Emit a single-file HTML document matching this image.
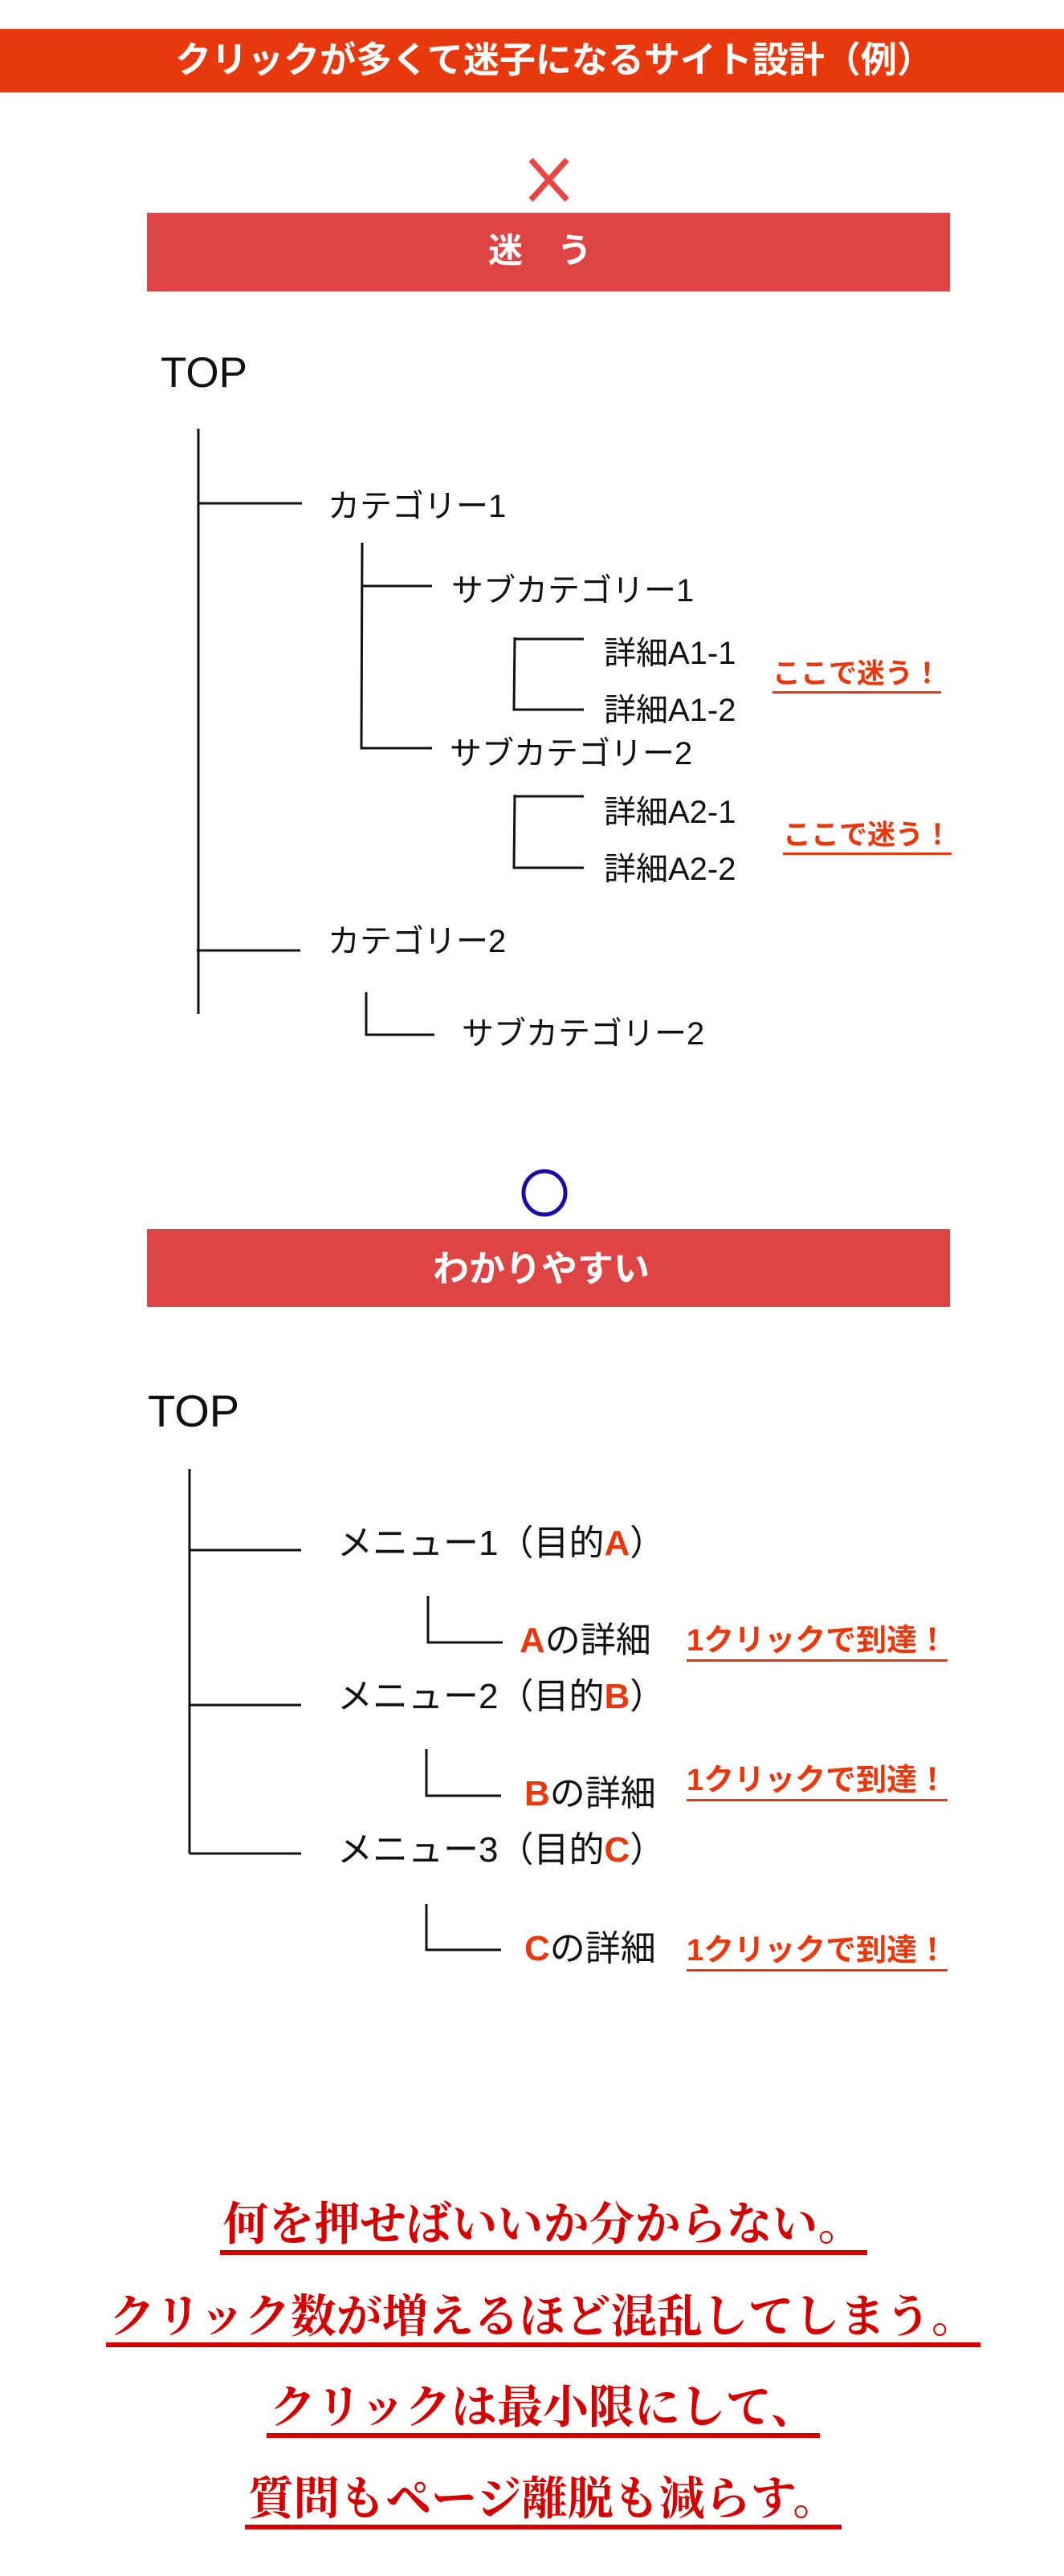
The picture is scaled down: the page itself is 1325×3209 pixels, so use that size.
<!DOCTYPE html>
<html><head><meta charset="utf-8">
<style>
html,body{margin:0;padding:0;background:#fff;}
body{width:1325px;height:3209px;position:relative;overflow:hidden;font-family:"Liberation Sans","Noto Sans CJK JP",sans-serif;color:#111;}
.t{position:absolute;white-space:nowrap;line-height:1;}
.r{color:#e8380d;font-weight:bold;}
.u{border-bottom:3px solid #e8380d;padding-bottom:2px;}
.s{position:absolute;white-space:nowrap;font-family:"Liberation Serif","Noto Serif CJK JP",serif;font-weight:bold;color:#d40000;font-size:57px;line-height:1;text-align:center;left:14px;width:1325px;}
.s span{border-bottom:6px solid #d40000;padding:0 4px 0 4px;}
</style></head><body>
<div style="position:absolute;left:0;top:36px;width:1325px;height:79px;background:#e8380d;"></div>
<div class="t" style="left:0;width:1380px;top:52px;text-align:center;color:#fff;font-weight:bold;font-size:45px;">クリックが多くて迷子になるサイト設計（例）</div>

<svg width="1325" height="3209" style="position:absolute;left:0;top:0" xmlns="http://www.w3.org/2000/svg">
<g stroke="#e84545" stroke-width="7" stroke-linecap="butt">
<line x1="661" y1="199" x2="706" y2="249"/><line x1="706" y1="199" x2="661" y2="249"/></g>
<rect x="183" y="265" width="1000" height="98" fill="#df4444"/>
<ellipse cx="678" cy="1486" rx="26" ry="27" fill="none" stroke="#1a0aa8" stroke-width="5"/>
<rect x="183" y="1531" width="1000" height="97" fill="#df4444"/>
<g stroke="#111" stroke-width="3" fill="none">
<line x1="247" y1="534" x2="247" y2="1263"/>
<line x1="247" y1="627" x2="376" y2="627"/>
<line x1="245" y1="1184" x2="374" y2="1184"/>
<polyline points="451,676 450,932 538,932"/>
<line x1="451" y1="730" x2="538" y2="730"/>
<polyline points="641,794 640,884 727,884"/>
<line x1="641" y1="796" x2="727" y2="796"/>
<polyline points="641,990 640,1081 727,1081"/>
<line x1="641" y1="992" x2="727" y2="992"/>
<polyline points="456,1236 456,1289 541,1289"/>
<line x1="236" y1="1830" x2="236" y2="2309"/>
<line x1="236" y1="1931" x2="375" y2="1931"/>
<line x1="236" y1="2124" x2="375" y2="2124"/>
<line x1="236" y1="2309" x2="375" y2="2309"/>
<polyline points="533,1988 533,2046 626,2046"/>
<polyline points="531,2179 531,2237 624,2237"/>
<polyline points="531,2372 531,2429 624,2429"/>
</g></svg>

<div class="t" style="left:0;width:1345px;top:292px;text-align:center;color:#fff;font-weight:bold;font-size:43px;">迷　う</div>
<div class="t" style="left:200px;top:438px;font-size:53px;">TOP</div>
<div class="t" style="left:408px;top:611px;font-size:40px;">カテゴリー1</div>
<div class="t" style="left:562px;top:716px;font-size:40px;">サブカテゴリー1</div>
<div class="t" style="left:752px;top:794px;font-size:40px;">詳細A1-1</div>
<div class="t" style="left:752px;top:865px;font-size:40px;">詳細A1-2</div>
<div class="t r" style="left:962px;top:822px;font-size:35px;"><span class="u">ここで迷う！</span></div>
<div class="t" style="left:560px;top:919px;font-size:40px;">サブカテゴリー2</div>
<div class="t" style="left:752px;top:992px;font-size:40px;">詳細A2-1</div>
<div class="t" style="left:752px;top:1063px;font-size:40px;">詳細A2-2</div>
<div class="t r" style="left:975px;top:1023px;font-size:35px;"><span class="u">ここで迷う！</span></div>
<div class="t" style="left:408px;top:1153px;font-size:40px;">カテゴリー2</div>
<div class="t" style="left:575px;top:1268px;font-size:40px;">サブカテゴリー2</div>

<div class="t" style="left:0;width:1348px;top:1558px;text-align:center;color:#fff;font-weight:bold;font-size:45px;">わかりやすい</div>
<div class="t" style="left:184px;top:1730px;font-size:56px;">TOP</div>
<div class="t" style="left:420px;top:1901px;font-size:44px;">メニュー1（目的<span class="r">A</span>）</div>
<div class="t" style="left:647px;top:2022px;font-size:44px;"><span class="r">A</span>の詳細</div>
<div class="t r" style="left:855px;top:2025px;font-size:38px;"><span class="u">1クリックで到達！</span></div>
<div class="t" style="left:420px;top:2092px;font-size:44px;">メニュー2（目的<span class="r">B</span>）</div>
<div class="t" style="left:653px;top:2213px;font-size:44px;"><span class="r">B</span>の詳細</div>
<div class="t r" style="left:855px;top:2199px;font-size:38px;"><span class="u">1クリックで到達！</span></div>
<div class="t" style="left:420px;top:2283px;font-size:44px;">メニュー3（目的<span class="r">C</span>）</div>
<div class="t" style="left:653px;top:2406px;font-size:44px;"><span class="r">C</span>の詳細</div>
<div class="t r" style="left:855px;top:2411px;font-size:38px;"><span class="u">1クリックで到達！</span></div>

<div class="s" style="top:2743px;"><span>何を押せばいいか分からない。</span></div>
<div class="s" style="top:2858px;"><span>クリック数が増えるほど混乱してしまう。</span></div>
<div class="s" style="top:2971px;"><span>クリックは最小限にして、</span></div>
<div class="s" style="top:3085px;"><span>質問もページ離脱も減らす。</span></div>
</body></html>
